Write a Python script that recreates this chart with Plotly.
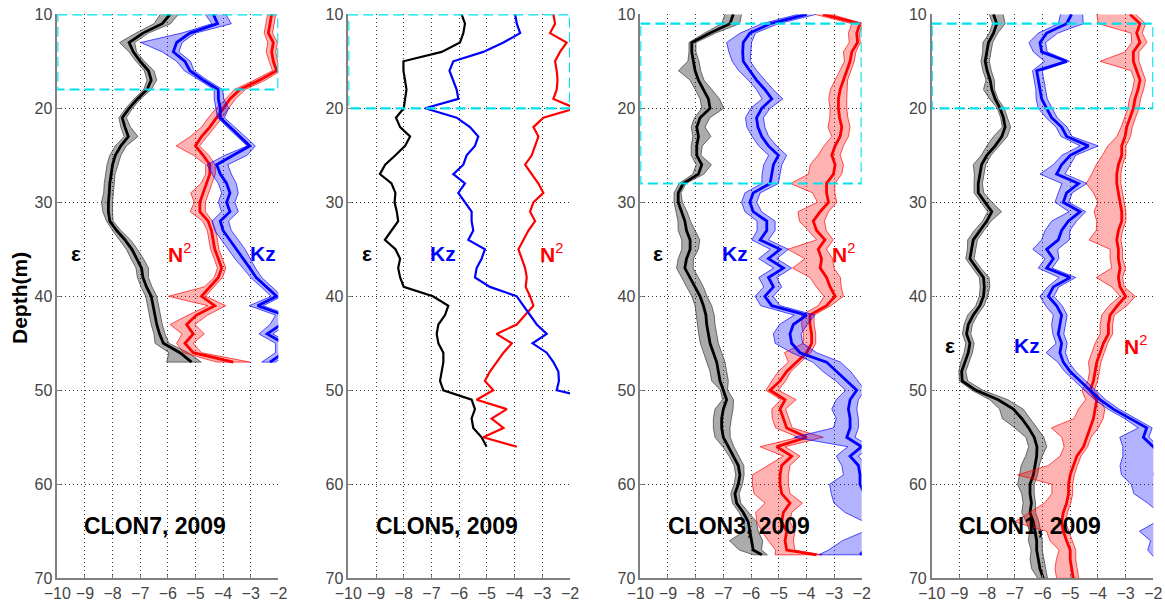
import plotly.graph_objects as go

# ---------------- data ----------------
titles = ["CLON7, 2009", "CLON5, 2009", "CLON3, 2009", "CLON1, 2009"]
x_ticks = [-10, -9, -8, -7, -6, -5, -4, -3, -2]
y_ticks = [10, 20, 30, 40, 50, 60, 70]
box_top = [10, 10, 11, 11]
box_bottom = [18, 20, 28, 20]

# Panel 1 (CLON7)
d1 = list(range(10, 48))
eps1 = [-5.92, -6.2, -6.9, -7.4, -7.25, -7.0, -6.7, -6.6, -6.75, -7.1,
        -7.4, -7.65, -7.55, -7.43, -7.7, -7.9, -8.0, -8.06, -8.1, -8.12,
        -8.15, -8.15, -8.1, -7.85, -7.55, -7.3, -7.13, -6.95, -6.9, -6.77,
        -6.6, -6.53, -6.47, -6.4, -6.3, -6.16, -5.56, -5.14]
eps1_lo = [.35, .3, .25, .35, .15, .15, .15, .15, .12, .12,
           .12, .12, .15, .15, .2, .2, .2, .2, .2, .2,
           .25, .2, .12, .15, .2, .2, .2, .2, .2, .2,
           .2, .2, .2, .2, .2, .3, .4, .9]
eps1_hi = [.3, .3, .2, .2, .12, .15, .2, .2, .15, .12,
           .12, .15, .2, .35, .2, .2, .2, .15, .15, .15,
           .15, .15, .12, .15, .2, .2, .25, .25, .2, .2,
           .2, .2, .2, .2, .2, .2, .3, .35]
kz1 = [-4.35, -4.2, -5.2, -5.68, -5.8, -5.38, -5.2, -4.72, -4.17, -4.17,
       -4.1, -4.1, -3.75, -3.4, -3.03, -3.63, -4.23, -4.1, -3.87, -3.75,
       -3.87, -3.75, -4.1, -4.0, -3.75, -3.5, -3.27, -3.03, -2.8, -2.42,
       -2.06, -2.75, -1.8, -1.9, -2.4, -1.8, -1.8, -2.3]
kz1_lo = [.3, .2, .3, 1.3, .4, .3, .2, .15, .15, .15,
          .15, .1, .1, .1, .1, .3, .35, .3, .3, .3,
          .3, .3, .3, .3, .3, .3, .3, .25, .2, .2,
          .2, .3, .3, .4, .3, .3, .3, .3]
kz1_hi = [.45, .5, .2, .2, .2, .2, .15, .15, .15, .2,
          .3, .15, .15, .2, .2, .5, .4, .4, .35, .3,
          .3, .3, .3, .3, .3, .3, .25, .2, .2, .2,
          .2, .2, .2, .2, .2, .2, .2, .2]
n2_1 = [-2.24, -2.3, -2.36, -2.18, -2.24, -2.18, -2.06, -2.67, -3.39, -3.75,
        -4.0, -4.23, -4.48, -4.78, -5.0, -4.72, -4.48, -4.48, -4.6, -4.72,
        -4.84, -4.84, -4.54, -4.42, -4.35, -4.3, -4.17, -4.05, -4.17, -4.48,
        -4.78, -4.3, -4.96, -5.32, -5.08, -5.38, -5.08, -3.63]
n2_1_lo = [.15, .15, .15, .2, .2, .15, .15, .2, .2, .15,
           .25, .3, .3, .4, .7, .35, .15, .15, .2, .45,
           .2, .35, .2, .15, .15, .15, .15, .15, .15, .2,
           1.2, .25, .3, .6, .4, .3, .35, .6]
n2_1_hi = [.15, .15, .15, .15, .15, .15, .15, .2, .2, .2,
           .2, .2, .2, .2, .15, .2, .2, .2, .2, .2,
           .2, .2, .15, .15, .15, .15, .15, .15, .15, .15,
           .15, .4, .4, .3, .4, .3, .3, .6]

# Panel 2 (CLON5) - no uncertainty bands
d2 = list(range(10, 57))
eps2 = [-5.91, -5.79, -5.85, -5.97, -6.63, -8.01, -8.01, -7.95, -7.9, -7.95,
        -8.0, -8.28, -8.13, -7.77, -7.95, -8.3, -8.67, -8.86, -8.44, -8.3,
        -8.33, -8.25, -8.2, -8.44, -8.68, -8.3, -8.13, -8.2, -8.13, -8.0,
        -6.95, -6.39, -6.51, -6.75, -6.81, -6.75, -6.57, -6.57, -6.63, -6.69,
        -6.57, -5.55, -5.43, -5.55, -5.49, -5.19, -5.01]
kz2 = [-3.98, -3.92, -3.8, -4.4, -5.13, -6.21, -6.35, -6.21, -6.09, -6.03,
       -7.23, -6.09, -5.61, -5.31, -5.43, -5.73, -5.85, -6.21, -5.79, -6.03,
       -5.79, -5.55, -5.55, -5.49, -5.67, -5.07, -5.19, -5.37, -5.43, -4.89,
       -3.92, -3.68, -3.44, -3.2, -2.84, -3.35, -2.84, -2.6, -2.42, -2.4,
       -2.48, -1.0, -1.0, -1.0, -1.0, -1.0, -1.0]
n2_2 = [-2.6, -2.54, -2.72, -2.12, -2.36, -2.54, -2.48, -2.45, -2.48, -2.6,
        -1.8, -2.96, -3.32, -3.14, -3.26, -3.38, -3.62, -3.38, -3.14, -2.96,
        -3.32, -3.44, -3.26, -3.5, -3.68, -3.86, -3.74, -3.62, -3.56, -3.6,
        -3.44, -3.32, -3.62, -3.92, -4.65, -4.1, -4.4, -4.65, -4.89, -5.07,
        -4.77, -5.37, -4.28, -4.83, -4.4, -5.13, -3.92]

# Panel 3 (CLON3)
d3 = list(range(10, 68)) + [67.5]
eps3 = [-6.64, -6.76, -7.48, -8.14, -8.14, -8.08, -8.02, -7.9, -7.72, -7.54,
        -7.48, -7.84, -7.96, -7.9, -7.96, -7.96, -7.78, -7.9, -8.45, -8.63,
        -8.63, -8.51, -8.39, -8.33, -8.2, -8.2, -8.33, -8.39, -8.2, -8.02,
        -7.84, -7.72, -7.63, -7.6, -7.54, -7.48, -7.36, -7.24, -7.18, -7.12,
        -7.0, -6.88, -7.0, -7.06, -7.06, -7.0, -6.82, -6.64, -6.46, -6.4,
        -6.46, -6.58, -6.52, -6.28, -6.1, -6.04, -5.98, -5.92, -5.61]
eps3_lo = [.3, .3, .2, .1, .1, .2, .6, .3, .3, .3,
           .3, .2, .2, .2, .2, .2, .2, .2, .15, .15,
           .15, .2, .25, .3, .3, .3, .3, .3, .3, .3,
           .3, .3, .35, .35, .35, .35, .35, .35, .3, .3,
           .1, .15, .3, .3, .3, .3, .2, .15, .15, .15,
           .15, .15, .15, .15, .15, .2, .8, .5, .3]
eps3_hi = [.3, .35, .2, .15, .15, .2, .2, .2, .3, .4,
           .5, .35, .3, .45, .2, .15, .35, .2, .1, .1,
           .15, .2, .2, .3, .35, .3, .25, .3, .3, .3,
           .25, .3, .3, .3, .3, .3, .3, .3, .3, .3,
           .15, .25, .35, .35, .3, .25, .2, .2, .2, .15,
           .15, .15, .15, .2, .3, .3, .4, .3, .2]
kz3 = [-3.99, -5.31, -6.04, -6.28, -6.3, -6.28, -6.04, -5.8, -5.5, -5.25,
       -5.61, -5.8, -5.75, -5.61, -5.37, -5.01, -5.19, -5.25, -5.31, -5.92,
       -6.04, -5.92, -5.43, -5.43, -5.67, -4.95, -5.37, -4.83, -5.37, -5.19,
       -5.5, -5.25, -3.99, -4.47, -4.59, -4.53, -4.23, -3.27, -2.9, -2.54,
       -2.18, -2.42, -2.48, -2.42, -2.42, -2.54, -2.0, -2.42, -2.12, -2.06,
       -2.06, -1.9, -1.7, -1.6, -1.6, -1.7, -1.8, -1.9, -2.05]
kz3_lo = [.3, .3, .35, .6, .5, .4, .4, .3, .3, .35,
          .4, .4, .4, .35, .35, .35, .35, .35, .3, .3,
          .3, .3, .35, .35, .3, .35, .35, .35, .35, .35,
          .35, .4, .45, .5, .6, .6, .3, .5, .5, .4,
          .4, .5, .6, .5, .6, 1.9, .5, .5, .6, .6,
          1.1, 1.2, 1.3, 1.0, .3, .2, .9, 1.3, 1.5]
kz3_hi = [.35, .3, .2, .3, .3, .25, .25, .3, .3, .4,
          .3, .25, .25, .25, .3, .3, .3, .3, .3, .25,
          .25, .3, .3, .3, .3, .3, .3, .3, .3, .3,
          .3, .3, .3, .5, .4, .4, .6, .5, .5, .4,
          .3, .3, .3, .3, .3, .3, .3, .3, .3, .3,
          .3, .3, .3, .3, .3, .3, .3, .3, .3]
n2_3 = [-3.4, -2.06, -2.18, -2.15, -2.36, -2.42, -2.54, -2.66, -2.78, -2.84,
        -2.84, -2.8, -2.72, -2.78, -2.96, -3.08, -2.96, -3.02, -3.27, -3.27,
        -3.2, -3.5, -3.75, -3.63, -3.33, -3.57, -3.45, -3.5, -3.27, -3.14,
        -2.96, -3.27, -3.87, -3.87, -3.81, -3.81, -3.99, -4.35, -4.71, -4.95,
        -5.31, -4.77, -4.95, -4.83, -4.71, -3.99, -5.07, -4.53, -4.89, -4.95,
        -4.95, -4.89, -4.59, -4.83, -4.89, -4.71, -4.77, -4.71, -3.63]
n2_3_lo = [.3, .3, .3, .3, .3, .2, .25, .3, .35, .35,
           .3, .35, .5, .3, .4, .5, .9, .9, 1.3, .5,
           .4, .8, .5, .3, .3, 1.1, .6, 1.0, .6, .5,
           .4, .3, .3, .3, .3, .3, .8, .3, .3, .3,
           .15, .15, .3, .4, .4, .3, .6, .3, .5, 1.0,
           1.0, 1.0, .9, 1.0, .9, .9, .6, .4, 1.5]
n2_3_hi = [.3, .1, .1, .1, .15, .15, .15, .15, .25, .3,
           .3, .3, .3, .3, .3, .3, .3, .3, .3, .3,
           .3, .3, .4, .35, .3, .3, .4, .5, .5, .4,
           .3, .15, .15, .15, .15, .15, .15, .15, .15, .2,
           .3, .4, .2, .2, .2, .6, .3, .3, .3, .3,
           .3, .3, .45, .3, .3, .3, .3, .3, .2]

# Panel 4 (CLON1)
d4 = list(range(10, 71))
eps4 = [-7.77, -7.65, -7.77, -7.95, -8.01, -8.07, -8.0, -7.89, -7.83, -7.71,
        -7.53, -7.41, -7.35, -7.47, -7.71, -8.01, -8.2, -8.26, -8.32, -8.32,
        -8.07, -7.83, -8.01, -8.26, -8.5, -8.56, -8.62, -8.38, -8.13, -8.1,
        -8.13, -8.26, -8.5, -8.68, -8.74, -8.62, -8.68, -8.8, -8.92, -8.9,
        -8.4, -7.6, -7.05, -6.75, -6.5, -6.3, -6.2, -6.21, -6.27, -6.33,
        -6.45, -6.45, -6.4, -6.45, -6.33, -6.27, -6.21, -6.21, -6.15, -6.09,
        -5.97]
eps4_lo = [.15, .15, .15, .2, .15, .15, .15, .15, .3, .2,
           .1, .1, .1, .3, .3, .2, .3, .2, .15, .15,
           .15, .15, .15, .2, .2, .15, .15, .15, .15, .15,
           .15, .15, .2, .15, .15, .15, .15, .15, .1, .1,
           .15, .3, .5, .7, .5, .3, .3, .4, .5, .5,
           .45, .3, .3, .3, .25, .2, .3, .2, .3, .3,
           .2]
eps4_hi = [.35, .3, .15, .15, .15, .15, .15, .15, .1, .1,
           .15, .15, .2, .2, .15, .15, .15, .15, .15, .2,
           .25, .35, .15, .15, .15, .15, .15, .15, .2, .2,
           .15, .15, .15, .15, .15, .15, .15, .15, .15, .2,
           .25, .35, .35, .3, .3, .35, .35, .2, .15, .15,
           .15, .15, .15, .2, .2, .2, .2, .2, .2, .2,
           .15]
kz4 = [-4.95, -5.13, -5.85, -6.09, -6.03, -5.13, -6.21, -6.15, -6.09, -6.03,
       -5.85, -5.67, -5.31, -5.13, -4.34, -5.0, -5.31, -5.49, -4.7, -5.13,
       -5.25, -4.64, -5.07, -5.31, -5.43, -5.85, -5.61, -5.85, -5.0, -5.61,
       -5.79, -5.49, -5.31, -5.37, -5.43, -5.31, -5.37, -5.25, -5.0, -4.64,
       -4.28, -3.92, -3.44, -2.84, -2.24, -2.36, -2.0, -1.7, -1.9, -1.95,
       -1.8, -1.6, -1.5, -1.5, -1.6, -1.7, -1.8, -1.8, -1.7, -1.6,
       -1.6]
kz4_lo = [.4, .3, .3, .4, .3, .8, .15, .15, .15, .2,
          .3, .2, .2, .2, .3, .3, .3, .6, .6, .3,
          .3, .4, .6, .6, .6, .5, .3, .3, .4, .2,
          .3, .4, .3, .3, .2, .2, .5, .2, .2, .2,
          .2, .2, .2, .2, .3, .85, 1.1, 1.4, 1.3, 1.2,
          1.0, 1.1, .7, .3, .3, .8, .3, .4, .2, .2,
          .2]
kz4_hi = [.4, .6, .4, .2, .2, .1, .2, .2, .2, .2,
          .2, .2, .2, .2, .35, .2, .3, .3, .3, .2,
          .2, .2, .3, .3, .4, .4, .2, .2, .2, .2,
          .2, .2, .2, .2, .2, .2, .2, .2, .2, .2,
          .2, .2, .2, .2, .2, .2, .2, .2, .2, .2,
          .2, .2, .2, .2, .2, .2, .2, .2, .2, .2,
          .2]
n2_4 = [-2.84, -2.48, -2.6, -2.48, -2.72, -2.72, -2.6, -2.48, -2.55, -2.66,
        -2.72, -2.84, -2.96, -3.02, -3.14, -3.14, -3.26, -3.32, -3.32, -3.26,
        -3.2, -3.14, -3.14, -3.26, -3.32, -3.26, -3.26, -3.2, -3.26, -3.2,
        -3.0, -3.3, -3.56, -3.62, -3.62, -3.8, -3.92, -4.04, -4.1, -4.16,
        -4.28, -4.04, -4.1, -4.16, -4.28, -4.4, -4.52, -4.76, -4.89, -5.0,
        -5.06, -5.06, -5.13, -5.25, -5.31, -5.25, -5.13, -5.0, -5.0, -4.95,
        -4.89]
n2_4_lo = [1.2, 1.5, .2, .3, .3, 1.2, .2, .2, .2, .2,
           .2, .2, .2, .3, .5, .7, .8, .9, 1.1, .9,
           .8, 1.0, .9, .8, 1.0, .3, .3, .3, .8, .3,
           .2, .3, .3, .3, .3, .3, .3, .3, .2, .2,
           .3, .4, .6, .7, 1.4, .9, .7, .6, .9, 1.9,
           .6, .6, .8, 1.2, 1.7, .6, .6, .4, .5, .6,
           .6]
n2_4_hi = [.2, .2, .2, .25, .2, .2, .2, .2, .2, .2,
           .2, .2, .2, .2, .15, .15, .15, .15, .15, .15,
           .15, .15, .15, .15, .15, .15, .15, .2, .15, .15,
           .35, .35, .15, .15, .15, .15, .15, .15, .15, .15,
           .15, .15, .35, .35, .3, .15, .15, .15, .15, .15,
           .15, .15, .15, .15, .15, .2, .2, .2, .2, .2,
           .2]

panels = [
    dict(d=d1, eps=(eps1, eps1_lo, eps1_hi), kz=(kz1, kz1_lo, kz1_hi), n2=(n2_1, n2_1_lo, n2_1_hi)),
    dict(d=d2, eps=(eps2, None, None), kz=(kz2, None, None), n2=(n2_2, None, None)),
    dict(d=d3, eps=(eps3, eps3_lo, eps3_hi), kz=(kz3, kz3_lo, kz3_hi), n2=(n2_3, n2_3_lo, n2_3_hi)),
    dict(d=d4, eps=(eps4, eps4_lo, eps4_hi), kz=(kz4, kz4_lo, kz4_hi), n2=(n2_4, n2_4_lo, n2_4_hi)),
]
for p in panels:
    for key in ("eps", "kz", "n2"):
        v, lo, hi = p[key]
        assert len(v) == len(p["d"]), (key, len(v), len(p["d"]))
        if lo is not None:
            assert len(lo) == len(v) and len(hi) == len(v), key

# label positions (axis units)
label_pos = [
    dict(eps=(-9.33, 35.4), kz=(-2.55, 35.4), n2=(-5.56, 35.4)),
    dict(eps=(-9.34, 35.4), kz=(-6.57, 35.4), n2=(-2.66, 35.4)),
    dict(eps=(-9.35, 35.4), kz=(-6.58, 35.4), n2=(-2.66, 35.4)),
    dict(eps=(-9.34, 45.2), kz=(-6.57, 45.2), n2=(-2.66, 45.2)),
]

# ---------------- figure ----------------
W, H = 1165, 606
x_px = [(57.3, 278.3), (348.3, 570.0), (640.3, 861.7), (931.7, 1153.3)]
y_dom = [1 - 578.3 / H, 1 - 14.3 / H]

styles = {
    "eps": dict(line="black", fill="rgba(0,0,0,0.33)", edge="rgba(60,60,60,0.9)"),
    "kz": dict(line="#0000ff", fill="rgba(0,0,255,0.30)", edge="rgba(0,0,255,0.85)"),
    "n2": dict(line="#ff0000", fill="rgba(255,0,0,0.30)", edge="rgba(255,0,0,0.85)"),
}

FONT = "Liberation Sans, Arial, sans-serif"
fig = go.Figure()
layout = dict(width=W, height=H, margin=dict(l=0, r=0, t=0, b=0),
              paper_bgcolor="white", plot_bgcolor="white", showlegend=False)
annotations = []
shapes = []

tickfont = dict(family=FONT, size=16, color="#444444")
axis_common = dict(showline=True, linecolor="#808080", linewidth=1.5, mirror=False,
                   ticks="inside", ticklen=4, tickcolor="#808080",
                   showgrid=True, gridcolor="#333333", griddash="1px,3px", gridwidth=1,
                   zeroline=False, tickfont=tickfont, automargin=False)

for i, p in enumerate(panels):
    n = i + 1
    xa = "x" if n == 1 else f"x{n}"
    ya = "y" if n == 1 else f"y{n}"
    lw = 2.2 if n == 2 else 2.8
    for key in ("eps", "n2", "kz"):
        v, lo, hi = p[key]
        st = styles[key]
        d = p["d"]
        if lo is not None:
            xs = [a - b for a, b in zip(v, lo)] + [a + b for a, b in zip(v, hi)][::-1]
            ys = list(d) + list(d)[::-1]
            fig.add_trace(go.Scatter(x=xs, y=ys, xaxis=xa, yaxis=ya, mode="lines",
                                     fill="toself", fillcolor=st["fill"],
                                     line=dict(color=st["edge"], width=0.8),
                                     hoverinfo="skip"))
        fig.add_trace(go.Scatter(x=v, y=d, xaxis=xa, yaxis=ya, mode="lines",
                                 line=dict(color=st["line"], width=lw)))
    dom = [x_px[i][0] / W, x_px[i][1] / W]
    layout["xaxis" if n == 1 else f"xaxis{n}"] = dict(
        domain=dom, anchor=ya, range=[-10, -2], tickvals=x_ticks, **axis_common)
    layout["yaxis" if n == 1 else f"yaxis{n}"] = dict(
        domain=y_dom, anchor=xa, range=[70, 10], tickvals=y_ticks, **axis_common)

    # dashed cyan box
    shapes.append(dict(type="rect", xref=xa, yref=ya, x0=-10, x1=-2,
                       y0=box_top[i], y1=box_bottom[i],
                       line=dict(color="rgb(0,225,235)", width=2.2, dash="10px,5px"),
                       fillcolor="rgba(0,0,0,0)", layer="above"))

    lp = label_pos[i]
    lab_font = dict(family=FONT, size=21)
    annotations.append(dict(x=lp["eps"][0], y=lp["eps"][1], xref=xa, yref=ya,
                            text="<b>ε</b>", showarrow=False,
                            xanchor="center", yanchor="middle",
                            font=dict(lab_font, color="black")))
    annotations.append(dict(x=lp["kz"][0], y=lp["kz"][1], xref=xa, yref=ya,
                            text="<b>Kz</b>", showarrow=False,
                            xanchor="center", yanchor="middle",
                            font=dict(lab_font, color="#0000ff")))
    annotations.append(dict(x=lp["n2"][0], y=lp["n2"][1], xref=xa, yref=ya,
                            text="<b>N</b><sup>2</sup>", showarrow=False,
                            xanchor="center", yanchor="middle",
                            font=dict(lab_font, color="#ff0000")))
    annotations.append(dict(x=-6.45, y=64.4, xref=xa, yref=ya,
                            text=f"<b>{titles[i]}</b>", showarrow=False,
                            xanchor="center", yanchor="middle",
                            font=dict(family=FONT, size=23, color="black")))

annotations.append(dict(x=19 / W, y=1 - 298 / H, xref="paper", yref="paper",
                        text="<b>Depth(m)</b>", textangle=-90, showarrow=False,
                        xanchor="center", yanchor="middle",
                        font=dict(family=FONT, size=21, color="black")))

layout["annotations"] = annotations
layout["shapes"] = shapes
fig.update_layout(**layout)
fig.write_html("out.html")
